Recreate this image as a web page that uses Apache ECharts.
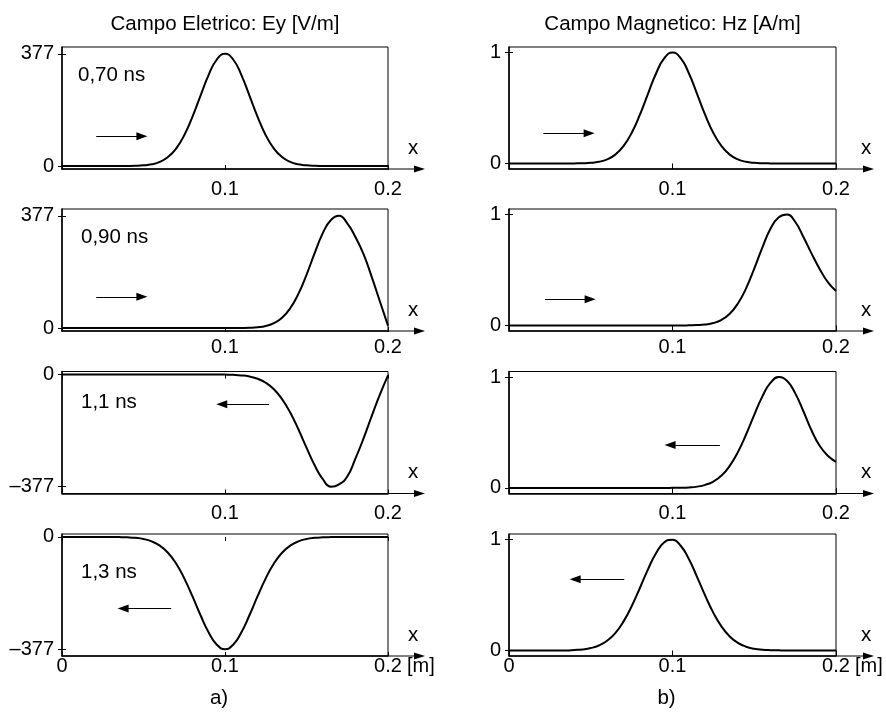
<!DOCTYPE html>
<html>
<head>
<meta charset="utf-8">
<script src="https://cdn.jsdelivr.net/npm/echarts@6/dist/echarts.min.js"></script>
<style>
  html, body { margin: 0; padding: 0; background: #fff; }
  #chart { width: 886px; height: 712px; }
</style>
</head>
<body>
<div id="chart"></div>
<script>
// Sample positions along the line [m]
const xPos = [0, 0.005, 0.01, 0.015, 0.02, 0.025, 0.03, 0.035, 0.04, 0.045,
  0.05, 0.055, 0.06, 0.065, 0.07, 0.075, 0.08, 0.085, 0.09, 0.095,
  0.1, 0.105, 0.11, 0.115, 0.12, 0.125, 0.13, 0.135, 0.14, 0.145,
  0.15, 0.155, 0.16, 0.165, 0.17, 0.175, 0.18, 0.185, 0.19, 0.195, 0.2];

// Electric field Ey [V/m] at each instant
const eyT070 = [0, 0, 0, 0, 0, 0, 0, 0, 0.2, 0.7,
  2.2, 5.7, 13.8, 30, 58.7, 103.6, 165, 236.8, 306.6, 358,
  377, 358, 306.6, 236.8, 165, 103.6, 58.7, 30, 13.8, 5.7,
  2.2, 0.7, 0.2, 0, 0, 0, 0, 0, 0, 0, 0];
const eyT090 = [0, 0, 0, 0, 0, 0, 0, 0, 0, 0,
  0, 0, 0, 0, 0, 0, 0, 0, 0, 0,
  0, 0, 0.3, 0.9, 2.6, 6.9, 16.3, 34.6, 66.4, 114.6,
  178.8, 251.5, 319, 363, 377, 352, 306, 248, 172, 90, 8];
const eyT110 = [0, 0, 0, 0, 0, 0, 0, 0, 0, 0,
  0, 0, 0, 0, 0, 0, 0, 0, 0, 0,
  -0.5, -1.3, -3.1, -6.9, -14.3, -27.7, -49.8, -82.9, -128, -184,
  -246, -305, -352, -377, -369, -343, -283, -215, -140, -68, -3];
const eyT130 = [0, 0, 0, 0, 0, 0, 0, -0.4, -1.2, -3,
  -6.9, -14.8, -29, -53, -89, -139, -199, -263, -321, -362,
  -377, -362, -321, -263, -199, -139, -89, -53, -29, -14.8,
  -6.9, -3, -1.2, -0.4, 0, 0, 0, 0, 0, 0, 0];

// Magnetic field Hz [A/m] at each instant
const hzT070 = [0, 0, 0, 0, 0, 0, 0, 0, 0.0006, 0.0019,
  0.0057, 0.0152, 0.0367, 0.0796, 0.1557, 0.2749, 0.4376, 0.6282, 0.8133, 0.9496,
  1, 0.9496, 0.8133, 0.6282, 0.4376, 0.2749, 0.1557, 0.0796, 0.0367, 0.0152,
  0.0057, 0.0019, 0.0006, 0, 0, 0, 0, 0, 0, 0, 0];
const hzT090 = [0, 0, 0, 0, 0, 0, 0, 0, 0, 0,
  0, 0, 0, 0, 0, 0, 0, 0, 0, 0,
  0, 0, 0.001, 0.003, 0.009, 0.022, 0.051, 0.105, 0.198, 0.335,
  0.512, 0.705, 0.874, 0.975, 1.0, 0.935, 0.8, 0.65, 0.51, 0.39, 0.31];
const hzT110 = [0, 0, 0, 0, 0, 0, 0, 0, 0, 0,
  0, 0, 0, 0, 0, 0, 0, 0, 0, 0,
  0.001, 0.002, 0.005, 0.012, 0.028, 0.058, 0.112, 0.199, 0.323, 0.482,
  0.659, 0.826, 0.949, 1.0, 0.966, 0.855, 0.694, 0.52, 0.38, 0.29, 0.235];
const hzT130 = [0, 0, 0, 0, 0, 0, 0, 0, 0.0038, 0.0094,
  0.0215, 0.045, 0.088, 0.157, 0.26, 0.398, 0.561, 0.731, 0.878, 0.975,
  0.998, 0.944, 0.824, 0.664, 0.494, 0.339, 0.215, 0.126, 0.068, 0.034,
  0.0156, 0.0066, 0.0026, 0.001, 0, 0, 0, 0, 0, 0, 0];

const timeLabels = ['0,70 ns', '0,90 ns', '1,1 ns', '1,3 ns'];
const eySeries = [eyT070, eyT090, eyT110, eyT130];
const hzSeries = [hzT070, hzT090, hzT110, hzT130];
const eyTicks = [[0, 377], [0, 377], [-377, 0], [-377, 0]];
const hzTicks = [0, 1];
const columnTitles = ['Campo Eletrico: Ey [V/m]', 'Campo Magnetico: Hz [A/m]'];
const panelTags = ['a)', 'b)'];

// ---- layout & style ----
const FONT = '"Liberation Sans", Arial, Helvetica, sans-serif';
const colLeft = [62, 509];
const colWidth = [326, 327];
const rowTop = [47, 209, 371.5, 534];
const rowH = 122;
const eyRange = [[-10, 400], [-10, 400], [-400, 10], [-400, 10]];
const hzRange = [-0.05, 1.05];
const xLabelMargin = [10, 6, 10, 0];
const timeLabelPos = [[78, 75], [81, 237], [81, 402], [81, 572]];
// propagation arrows in data units: [xStart, xEnd, y]
const eyArrows = [[0.021, 0.049, 100], [0.021, 0.049, 105], [0.127, 0.098, -100], [0.067, 0.0375, -240]];
const hzArrows = [[0.021, 0.049, 0.272], [0.022, 0.0496, 0.236], [0.129, 0.0985, 0.387], [0.0705, 0.0405, 0.641]];
const axisArrowEnd = [425, 874];
const xNamePos = [413, 866];

const minus = v => (v < 0 ? '\u2013' + Math.abs(v) : String(v));

const grids = [], xAxes = [], yAxes = [], series = [], graphics = [];

for (let row = 0; row < 4; row++) {
  for (let col = 0; col < 2; col++) {
    const g = grids.length;
    const isE = col === 0;
    const lastRow = row === 3;
    grids.push({
      left: colLeft[col], top: rowTop[row], width: colWidth[col], height: rowH,
      show: true, borderColor: '#000', borderWidth: 1, backgroundColor: 'transparent'
    });
    // bottom axis with labels
    xAxes.push({
      gridIndex: g, type: 'value', min: 0, max: 0.2, interval: 0.1, position: 'bottom',
      axisLine: { show: true, onZero: false, lineStyle: { color: '#000', width: 1.5 } },
      axisTick: { show: true, inside: true, length: 4, lineStyle: { color: '#000' } },
      axisLabel: {
        show: true, margin: xLabelMargin[row], color: '#000', fontSize: 20, fontFamily: FONT,
        formatter: v => (v === 0 && !lastRow ? '' : String(v))
      },
      splitLine: { show: false }
    });
    // mirrored top ticks
    xAxes.push({
      gridIndex: g, type: 'value', min: 0, max: 0.2, interval: 0.1, position: 'top',
      axisLine: { show: false },
      axisTick: { show: true, inside: true, length: 4, lineStyle: { color: '#000' } },
      axisLabel: { show: false }, splitLine: { show: false }
    });
    const range = isE ? eyRange[row] : hzRange;
    const ticks = isE ? eyTicks[row] : hzTicks;
    yAxes.push({
      gridIndex: g, type: 'value', min: range[0], max: range[1], position: 'left',
      axisLine: { show: true, onZero: false, lineStyle: { color: '#000', width: 1.5 } },
      axisTick: { show: true, inside: true, length: 4, customValues: ticks, lineStyle: { color: '#000' } },
      axisLabel: {
        show: true, margin: 8, color: '#000', fontSize: 20, fontFamily: FONT,
        customValues: ticks, formatter: minus
      },
      splitLine: { show: false }
    });
    yAxes.push({
      gridIndex: g, type: 'value', min: range[0], max: range[1], position: 'right',
      axisLine: { show: false },
      axisTick: { show: true, inside: true, length: 4, customValues: ticks, lineStyle: { color: '#000' } },
      axisLabel: { show: false }, splitLine: { show: false }
    });

    const values = isE ? eySeries[row] : hzSeries[row];
    const arrow = isE ? eyArrows[row] : hzArrows[row];
    series.push({
      type: 'line', xAxisIndex: 2 * g, yAxisIndex: 2 * g,
      data: xPos.map((x, k) => [x, values[k]]),
      smooth: true, showSymbol: false, silent: true,
      lineStyle: { color: '#000', width: 2 },
      markLine: {
        silent: true, symbol: ['none', 'triangle'], symbolSize: [8, 11],
        label: { show: false }, emphasis: { disabled: true },
        lineStyle: { color: '#000', width: 1, type: 'solid' },
        data: [[{ coord: [arrow[0], arrow[2]] }, { coord: [arrow[1], arrow[2]] }]]
      }
    });

    // x axis extension arrow and its name
    const yb = rowTop[row] + rowH;
    const x0 = colLeft[col] + colWidth[col];
    const x1 = axisArrowEnd[col];
    graphics.push({
      type: 'line', silent: true,
      shape: { x1: x0, y1: yb, x2: x1 - 6, y2: yb },
      style: { stroke: '#000', lineWidth: 1 }
    });
    graphics.push({
      type: 'polygon', silent: true,
      shape: { points: [[x1 - 11, yb - 3.5], [x1, yb], [x1 - 11, yb + 3.5]] },
      style: { fill: '#000' }
    });
    graphics.push({
      type: 'text', silent: true, x: xNamePos[col], y: yb - 21,
      style: { text: 'x', font: '20.5px ' + FONT, fill: '#000', align: 'center', verticalAlign: 'middle' }
    });
    if (isE) {
      graphics.push({
        type: 'text', silent: true, x: timeLabelPos[row][0], y: timeLabelPos[row][1],
        style: { text: timeLabels[row], font: '20.5px ' + FONT, fill: '#000', align: 'left', verticalAlign: 'middle' }
      });
    }
    if (lastRow) {
      graphics.push({
        type: 'text', silent: true, x: x0 + 19, y: yb + 10,
        style: { text: '[m]', font: '20px ' + FONT, fill: '#000', align: 'left', verticalAlign: 'middle' }
      });
    }
  }
}

for (let col = 0; col < 2; col++) {
  const cx = colLeft[col] + colWidth[col] / 2;
  graphics.push({
    type: 'text', silent: true, x: cx, y: 24,
    style: { text: columnTitles[col], font: '20.5px ' + FONT, fill: '#000', align: 'center', verticalAlign: 'middle' }
  });
  graphics.push({
    type: 'text', silent: true, x: cx - 6, y: 698,
    style: { text: panelTags[col], font: '20.5px ' + FONT, fill: '#000', align: 'center', verticalAlign: 'middle' }
  });
}

const chart = echarts.init(document.getElementById('chart'), null, { renderer: 'canvas' });
chart.setOption({
  animation: false,
  backgroundColor: '#fff',
  grid: grids,
  xAxis: xAxes,
  yAxis: yAxes,
  series: series,
  graphic: graphics
});
</script>
</body>
</html>
